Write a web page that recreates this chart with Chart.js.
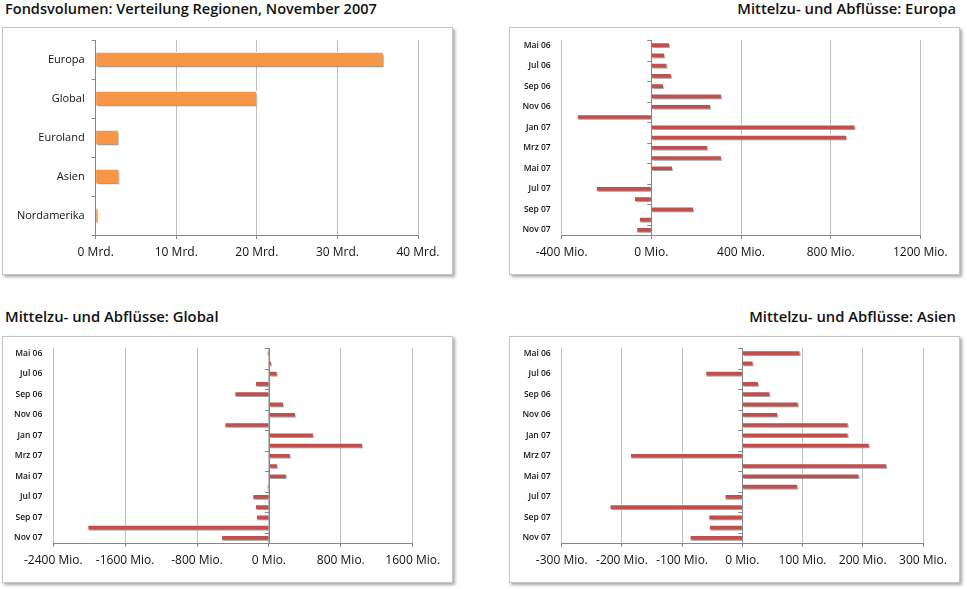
<!DOCTYPE html>
<html>
<head>
<meta charset="utf-8">
<script src="https://cdn.jsdelivr.net/npm/chart.js@4/dist/chart.umd.min.js"></script>
<style>
  body { margin: 0; background: #fff; width: 967px; height: 589px; position: relative; overflow: hidden; font-family: "Open Sans", sans-serif; }
  .title { position: absolute; font-size: 14.8px; font-weight: 600; color: #111; white-space: nowrap; line-height: 16px; }
  .box { position: absolute; border: 1px solid #c4c4c4; box-shadow: 2px 2px 3px rgba(0,0,0,0.35); background: #fff; }
  .box canvas { position: absolute; left: 0; top: 0; }
</style>
</head>
<body>

<div class="title" style="left:5px; top:0px; font-size:14.55px;">Fondsvolumen: Verteilung Regionen, November 2007</div>
<div class="title" style="right:11px; top:0px;">Mittelzu- und Abflüsse: Europa</div>
<div class="title" style="left:5px; top:308px;">Mittelzu- und Abflüsse: Global</div>
<div class="title" style="right:11px; top:308px;">Mittelzu- und Abflüsse: Asien</div>

<div class="box" style="left:2px; top:27px; width:449px; height:246px;"><canvas id="volChart"></canvas></div>
<div class="box" style="left:509px; top:27px; width:449px; height:246px;"><canvas id="europaChart"></canvas></div>
<div class="box" style="left:2px; top:336px; width:449px; height:245px;"><canvas id="globalChart"></canvas></div>
<div class="box" style="left:509px; top:336px; width:449px; height:245px;"><canvas id="asienChart"></canvas></div>

<script>
// DATA
const regions = ['Europa', 'Global', 'Euroland', 'Asien', 'Nordamerika'];
const volumes = [35.7, 20.0, 2.8, 2.9, 0.25]; // Mrd.

const months = ['Mai 06', 'Jun 06', 'Jul 06', 'Aug 06', 'Sep 06', 'Okt 06', 'Nov 06', 'Dez 06',
  'Jan 07', 'Feb 07', 'Mrz 07', 'Apr 07', 'Mai 07', 'Jun 07', 'Jul 07', 'Aug 07', 'Sep 07', 'Okt 07', 'Nov 07'];
// Mio.
const europaFlows = [82, 60, 70, 90, 55, 313, 265, -331, 909, 872, 252, 313, 95, 2, -246, -76, 189, -54, -66];
const globalFlows = [-15, 30, 93, -152, -381, 163, 296, -492, 496, 1044, 240, 96, 196, -15, -181, -152, -141, -2017, -529];
const asienFlows = [96, 18, -61, 27, 46, 93, 59, 176, 176, 211, -186, 240, 194, 92, -29, -220, -56, -55, -87];

const GRID = '#c0c0c0';
const AXIS = '#868686';

// shadow under the bars
const barShadow = {
  id: 'barShadow',
  beforeDatasetsDraw(chart) {
    const c = chart.ctx;
    c.save();
    c.shadowColor = 'rgba(0,0,0,0.4)';
    c.shadowOffsetX = 1;
    c.shadowOffsetY = 2;
    c.shadowBlur = 2;
  },
  afterDatasetsDraw(chart) {
    chart.ctx.restore();
  }
};

// category axis tick marks on the zero line (every second month)
const zeroTicks = {
  id: 'zeroTicks',
  afterDatasetsDraw(chart) {
    const x0 = chart.scales.x.getPixelForValue(0);
    const y = chart.scales.y;
    const c = chart.ctx;
    const n = y.getLabels().length;
    const step = (y.bottom - y.top) / n;
    c.save();
    c.strokeStyle = AXIS;
    c.lineWidth = 1;
    c.beginPath();
    c.moveTo(Math.round(x0) + 0.5, y.top);
    c.lineTo(Math.round(x0) + 0.5, y.bottom);
    for (let i = 0; i < n; i += 2) {
      const py = Math.round(y.top + i * step) + 0.5;
      c.moveTo(x0 - 4, py);
      c.lineTo(x0, py);
    }
    c.stroke();
    c.restore();
  }
};

function fixAxis(w, h) {
  return function(scale) {
    if (w != null) scale.width = w;
    if (h != null) scale.height = h;
    scale.paddingLeft = 0; scale.paddingRight = 0;
    scale.paddingTop = 0; scale.paddingBottom = 0;
  };
}

function sizeCanvas(id) {
  const canvas = document.getElementById(id);
  canvas.width = canvas.parentNode.clientWidth;
  canvas.height = canvas.parentNode.clientHeight;
  return canvas;
}

// FONDSVOLUMEN
new Chart(sizeCanvas('volChart'), {
  type: 'bar',
  data: {
    labels: regions,
    datasets: [{
      data: volumes,
      backgroundColor: '#F79646',
      borderColor: '#ffffff',
      borderWidth: 1,
      barThickness: 15
    }]
  },
  options: {
    indexAxis: 'y',
    responsive: false,
    animation: false,
    layout: { padding: { top: 12, right: 34, left: 0, bottom: 0 } },
    plugins: { legend: { display: false }, tooltip: { enabled: false } },
    scales: {
      x: {
        min: 0, max: 40,
        ticks: { stepSize: 10, color: '#111', font: { family: 'Open Sans', size: 12 }, padding: 6,
          callback: function(v) { return v + ' Mrd.'; } },
        grid: { color: GRID, tickColor: AXIS, tickLength: 4 },
        border: { display: true, color: AXIS },
        afterFit: fixAxis(null, 39)
      },
      y: {
        ticks: { color: '#111', font: { family: 'Open Sans', size: 11 }, padding: 7 },
        grid: { drawOnChartArea: false, drawTicks: true, tickLength: 4, color: AXIS },
        border: { display: true, color: AXIS },
        afterFit: fixAxis(92.7, null)
      }
    }
  },
  plugins: [barShadow]
});

// MITTELZU- UND ABFLÜSSE
function makeFlowChart(id, values, min, max, step, left, right, top) {
  return new Chart(sizeCanvas(id), {
    type: 'bar',
    data: {
      labels: months,
      datasets: [{
        data: values,
        backgroundColor: '#C0504D',
        borderColor: '#ffffff',
        borderWidth: 1,
        barThickness: 5
      }]
    },
    options: {
      indexAxis: 'y',
      responsive: false,
      animation: false,
      layout: { padding: { top: top, right: right, left: 0, bottom: 0 } },
      plugins: { legend: { display: false }, tooltip: { enabled: false } },
      scales: {
        x: {
          min: min, max: max,
          ticks: { stepSize: step, color: '#111', font: { family: 'Open Sans', size: 12 }, padding: 6,
            callback: function(v) { return v + ' Mio.'; } },
          grid: { color: GRID, tickColor: AXIS, tickLength: 4 },
          border: { display: true, color: AXIS },
          afterFit: fixAxis(null, 39)
        },
        y: {
          ticks: { color: '#111', autoSkip: false, font: { family: 'Open Sans', size: 8.5, weight: '600' }, padding: 11,
            callback: function(v, i) { return i % 2 === 0 ? months[i] : ''; } },
          grid: { display: false, drawTicks: false },
          border: { display: false },
          afterFit: fixAxis(left, null)
        }
      }
    },
    plugins: [barShadow, zeroTicks]
  });
}

makeFlowChart('europaChart', europaFlows, -400, 1200, 400, 51.7, 38.7, 12);
makeFlowChart('globalChart', globalFlows, -2400, 1600, 800, 50.3, 39.3, 11);
makeFlowChart('asienChart', asienFlows, -300, 300, 100, 51.7, 36, 11);
</script>
</body>
</html>
